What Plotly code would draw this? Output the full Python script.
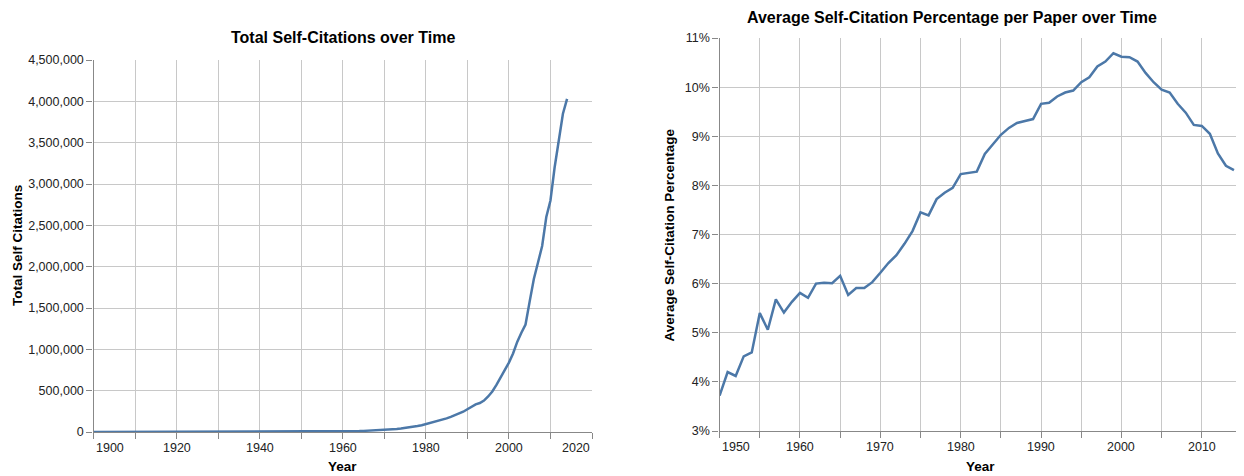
import plotly.graph_objects as go

# ---------------- data ----------------
years_total = list(range(1900, 2015))
total_self_citations = [
    60, 70, 80, 90, 100, 110, 120, 130, 140, 150,
    170, 190, 210, 230, 240, 230, 220, 240, 270, 300,
    330, 360, 390, 420, 450, 480, 510, 540, 570, 600,
    640, 680, 720, 760, 800, 850, 900, 950, 1000, 1050,
    1050, 1000, 950, 950, 1000, 1100, 1200, 1350, 1500, 1650,
    1800, 2000, 2300, 2600, 3000, 3500, 4000, 4600, 5300, 6100,
    7000, 8000, 9200, 10500, 12000, 13500, 15500, 17500, 20000, 22500,
    25500, 29000, 33000, 37000, 42000, 48000, 55000, 63000, 72000, 82000,
    95000, 105000, 118000, 132000, 148000, 165000, 183000, 203000, 222000, 245000,
    275000, 310000, 335000, 350000, 380000, 430000, 490000, 570000, 660000, 750000,
    840000, 950000, 1090000, 1200000, 1300000, 1580000, 1850000, 2050000, 2250000, 2600000,
    2800000, 3200000, 3550000, 3850000, 4030000,
]

years_pct = list(range(1950, 2015))
avg_self_citation_pct = [
    3.72, 4.20, 4.12, 4.52, 4.60, 5.40, 5.06, 5.68, 5.41, 5.63,
    5.81, 5.71, 6.00, 6.02, 6.01, 6.16, 5.77, 5.91, 5.91, 6.03,
    6.22, 6.42, 6.58, 6.81, 7.07, 7.45, 7.39, 7.72, 7.85, 7.95,
    8.23, 8.26, 8.28, 8.64, 8.84, 9.03, 9.17, 9.27, 9.31, 9.35,
    9.66, 9.68, 9.81, 9.89, 9.93, 10.10, 10.20, 10.42, 10.52, 10.69,
    10.62, 10.61, 10.52, 10.29, 10.10, 9.95, 9.89, 9.66, 9.48, 9.23,
    9.21, 9.05, 8.65, 8.40, 8.31,
]

left_x_label_years = [1900, 1920, 1940, 1960, 1980, 2000, 2020]
left_x_grid_years = list(range(1900, 2021, 10))
right_x_label_years = [1950, 1960, 1970, 1980, 1990, 2000, 2010]
right_x_grid_years = list(range(1950, 2016, 5))

titles = ["Total Self-Citations over Time",
          "Average Self-Citation Percentage per Paper over Time"]
y_titles = ["Total Self Citations", "Average Self-Citation Percentage"]
x_title = "Year"

# ---------------- style ----------------
OFF = 8            # page body margin of the html page
W, H = 1244 - OFF, 476 - OFF
FONT = "Liberation Sans, Arial, Helvetica, sans-serif"
LINE = "#4c78a8"
GRID = "#c8c8c8"
AXIS = "#888888"
LABEL = "#222222"
LABEL_SIZE = 12.5
TITLE_SIZE = 16
AXTITLE_SIZE = 13.5


def px_x(v):
    return (v - OFF) / W


def px_y(v):
    return 1 - (v - OFF) / H


fig = go.Figure()
fig.add_trace(go.Scatter(x=years_total, y=total_self_citations, mode="lines",
                         line=dict(color=LINE, width=2.5), xaxis="x", yaxis="y",
                         showlegend=False, hoverinfo="x+y"))
fig.add_trace(go.Scatter(x=years_pct, y=avg_self_citation_pct, mode="lines",
                         line=dict(color=LINE, width=2.5), xaxis="x2", yaxis="y2",
                         showlegend=False, hoverinfo="x+y"))

common_axis = dict(showgrid=True, gridcolor=GRID, gridwidth=1.4,
                   showline=True, linecolor=AXIS, linewidth=1.4,
                   ticks="outside", ticklen=6, tickcolor=AXIS, tickwidth=1.4,
                   zeroline=False, automargin=False,
                   tickfont=dict(family=FONT, size=LABEL_SIZE, color=LABEL))

L_x0, L_x1, L_y0, L_y1 = 93.5, 592, 60, 432
R_x0, R_x1, R_y0, R_y1 = 719.6, 1242, 38, 431

fig.update_layout(
    width=W, height=H,
    margin=dict(l=0, r=0, t=0, b=0),
    paper_bgcolor="white", plot_bgcolor="white",
    font=dict(family=FONT, color=LABEL),
    xaxis=dict(common_axis, domain=[px_x(L_x0), px_x(L_x1)], range=[1900, 2020],
               tickmode="array", tickvals=left_x_grid_years, showticklabels=False,
               anchor="y"),
    yaxis=dict(common_axis, domain=[px_y(L_y1), px_y(L_y0)], range=[0, 4500000],
               dtick=500000, tickformat=",d", anchor="x"),
    xaxis2=dict(common_axis, domain=[px_x(R_x0), px_x(R_x1)], range=[1950, 2015],
                tickmode="array", tickvals=right_x_grid_years, showticklabels=False,
                anchor="y2"),
    yaxis2=dict(common_axis, domain=[px_y(R_y1), px_y(R_y0)], range=[3, 11],
                dtick=1, ticksuffix="%", anchor="x2"),
)

ann = []
# x tick labels (first flush-left, last flush-right, as in the reference)
for xref, yref, labels in (("x", "y domain", left_x_label_years),
                           ("x2", "y2 domain", right_x_label_years)):
    for i, yr in enumerate(labels):
        anchor = "left" if i == 0 else ("right" if (xref == "x" and i == len(labels) - 1) else "center")
        ann.append(dict(x=yr, y=0, xref=xref, yref=yref, text=str(yr),
                        showarrow=False, xanchor=anchor, yanchor="top", yshift=-7,
                        font=dict(family=FONT, size=LABEL_SIZE, color=LABEL)))

# chart titles
ann.append(dict(x=px_x(343), y=px_y(37), xref="paper", yref="paper", text="<b>" + titles[0] + "</b>",
                showarrow=False, xanchor="center", yanchor="middle",
                font=dict(family=FONT, size=TITLE_SIZE, color="#000")))
ann.append(dict(x=px_x(952), y=px_y(8), xref="paper", yref="paper", text="<b>" + titles[1] + "</b>",
                showarrow=False, xanchor="center", yanchor="top", yshift=1,
                font=dict(family=FONT, size=TITLE_SIZE, color="#000")))
# x titles
for cx in ((L_x0 + L_x1) / 2, (R_x0 + R_x1) / 2):
    ann.append(dict(x=px_x(cx), y=px_y(466), xref="paper", yref="paper", text="<b>" + x_title + "</b>",
                    showarrow=False, xanchor="center", yanchor="middle",
                    font=dict(family=FONT, size=AXTITLE_SIZE, color="#000")))
# y titles
ann.append(dict(x=px_x(17), y=px_y((L_y0 + L_y1) / 2), xref="paper", yref="paper",
                text="<b>" + y_titles[0] + "</b>", textangle=-90,
                showarrow=False, xanchor="center", yanchor="middle",
                font=dict(family=FONT, size=AXTITLE_SIZE, color="#000")))
ann.append(dict(x=px_x(669), y=px_y((R_y0 + R_y1) / 2), xref="paper", yref="paper",
                text="<b>" + y_titles[1] + "</b>", textangle=-90,
                showarrow=False, xanchor="center", yanchor="middle",
                font=dict(family=FONT, size=AXTITLE_SIZE, color="#000")))

fig.update_layout(annotations=ann)
fig.write_html("out.html")
